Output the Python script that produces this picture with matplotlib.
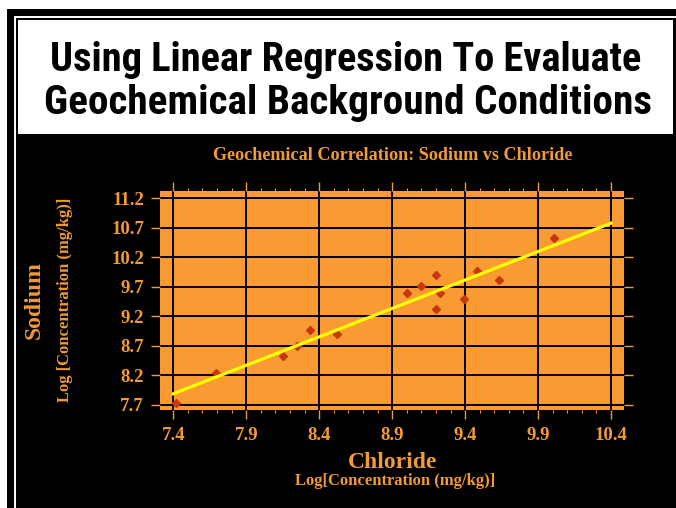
import matplotlib.pyplot as plt
from matplotlib.patches import Rectangle
from matplotlib.lines import Line2D

W, H = 676, 508

chloride = [7.42, 7.69, 8.15, 8.25, 8.34, 8.52, 9.00, 9.10, 9.20, 9.23, 9.20, 9.39, 9.48, 9.63, 10.01]
sodium = [7.73, 8.25, 8.53, 8.70, 8.97, 8.91, 9.60, 9.72, 9.90, 9.59, 9.33, 9.49, 9.97, 9.82, 10.53]

# regression line end points
fit_x = [7.4, 10.4]
fit_y = [7.89, 10.78]

x_ticks = [7.4, 7.9, 8.4, 8.9, 9.4, 9.9, 10.4]
y_ticks = [7.7, 8.2, 8.7, 9.2, 9.7, 10.2, 10.7, 11.2]

title_lines = ['Using Linear Regression To Evaluate', 'Geochemical Background Conditions']

ORANGE = '#F99A32'
TEXT = '#F29A33'
SERIF = ['Liberation Serif', 'DejaVu Serif']
NARROW = ['Roboto Condensed', 'DejaVu Sans Condensed', 'Noto Sans Condensed',
          'Open Sans Condensed', 'DejaVu Sans']


def fx(px):
    return px / W


def fy(py):
    return 1 - py / H


fig = plt.figure(figsize=(W / 100, H / 100), dpi=100, facecolor='white')

# black frame, white inner line, white title box
fig.patches.append(Rectangle((fx(7), 0), 1, fy(9), transform=fig.transFigure,
                             facecolor='black', edgecolor='none', zorder=0))
fig.lines.append(Line2D([fx(15), fx(15)], [0, fy(17)], transform=fig.transFigure,
                        color='white', lw=1.4, zorder=1))
fig.lines.append(Line2D([fx(15), 1], [fy(17), fy(17)], transform=fig.transFigure,
                        color='white', lw=1.4, zorder=1))
fig.patches.append(Rectangle((fx(18), fy(134)), fx(673 - 18), (134 - 20) / H,
                             transform=fig.transFigure, facecolor='white',
                             edgecolor='none', zorder=1))

t1 = fig.text(fx(346), fy(71), title_lines[0], ha='center', va='baseline',
              fontsize=30, fontweight='black', fontstretch='condensed', family=NARROW)
t2 = fig.text(fx(348), fy(114), title_lines[1], ha='center', va='baseline',
              fontsize=30, fontweight='black', fontstretch='condensed', family=NARROW)

ax = fig.add_axes([fx(160), fy(410), (624 - 160) / W, (410 - 191) / H])
ax.set_facecolor(ORANGE)
ax.set_zorder(2)

ax.plot(chloride, sodium, linestyle='none', marker='D', markersize=4.5,
        color='#C8380E', zorder=3)
ax.plot(fit_x, fit_y, color='#FFFF00', lw=2.3, zorder=4)

ax.set_xlim(7.309, 10.489)
ax.set_ylim(7.615, 11.324)
ax.set_xticks(x_ticks)
ax.set_xticklabels(['{:.1f}'.format(v) for v in x_ticks])
ax.set_yticks(y_ticks)
ax.set_yticklabels(['{:.1f}'.format(v) for v in y_ticks])
ax.set_xticks([x + d for x in x_ticks[:-1] for d in (0.1, 0.2, 0.3, 0.4)], minor=True)

ax.grid(True, color='black', lw=1.4)
ax.set_axisbelow(True)
for s in ax.spines.values():
    s.set_visible(False)

ax.tick_params(which='major', direction='out', length=6.5, width=1, color=TEXT,
               top=True, right=True, labelcolor=TEXT, labelsize=13.5)
ax.tick_params(which='minor', direction='out', length=2.5, width=0.8, color=TEXT,
               top=True)
ax.tick_params(axis='x', pad=6)
ax.tick_params(axis='y', pad=5)
for lab in ax.get_xticklabels() + ax.get_yticklabels():
    lab.set_family(SERIF)
    lab.set_fontweight('bold')

fig.text(fx(393), fy(156), 'Geochemical Correlation: Sodium vs Chloride', ha='center',
         va='center', color=TEXT, fontsize=13.1, fontweight='bold', family=SERIF)
fig.text(fx(393), fy(462), 'Chloride', ha='center', va='center', color=TEXT,
         fontsize=17, fontweight='bold', family=SERIF)
fig.text(fx(395), fy(481), 'Log[Concentration (mg/kg)]', ha='center', va='center',
         color=TEXT, fontsize=12, fontweight='bold', family=SERIF)
fig.text(fx(34), fy(300), 'Sodium', ha='center', va='center', rotation=90,
         color=TEXT, fontsize=17, fontweight='bold', family=SERIF)
fig.text(fx(65), fy(300), 'Log [Concentration (mg/kg)]', ha='center', va='center',
         rotation=90, color=TEXT, fontsize=12, fontweight='bold', family=SERIF)

# shrink the banner lines to the width they take in the reference
fig.canvas.draw()
renderer = fig.canvas.get_renderer()
for t, target in zip([t1, t2], [592, 608]):
    w = t.get_window_extent(renderer).width
    t.set_fontsize(t.get_fontsize() * target / w)

fig.savefig('out.png', dpi=100, facecolor=fig.get_facecolor())
